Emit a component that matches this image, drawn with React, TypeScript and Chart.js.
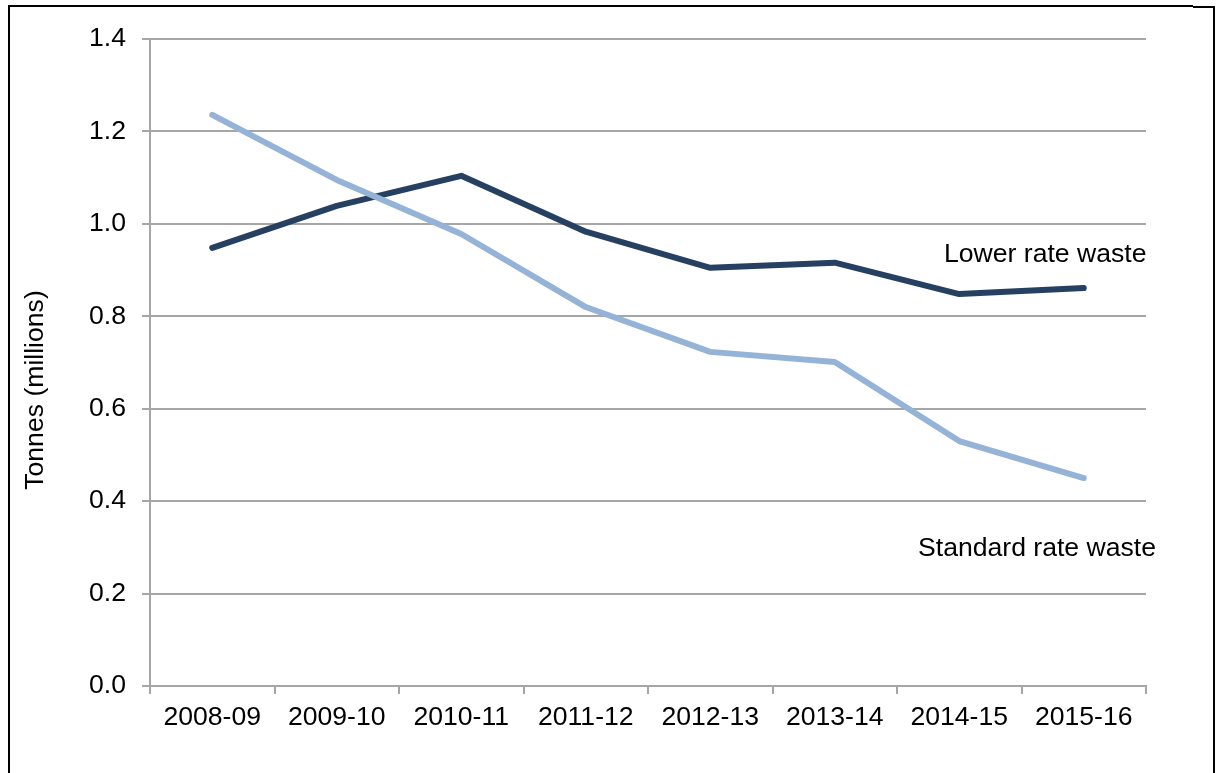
import React, { useEffect, useRef } from "react";
import { Chart, registerables } from "chart.js";

Chart.register(...registerables);

const categories = ["2008-09", "2009-10", "2010-11", "2011-12", "2012-13", "2013-14", "2014-15", "2015-16"];
const lowerRate = [0.948, 1.039, 1.104, 0.983, 0.905, 0.916, 0.848, 0.861];
const standardRate = [1.236, 1.095, 0.978, 0.820, 0.723, 0.701, 0.530, 0.450];
const yTitle = "Tonnes (millions)";
const lowerLabel = "Lower rate waste";
const standardLabel = "Standard rate waste";

const FONT = "'Liberation Sans', Arial, sans-serif";
const FS = 26.6;
const GRID = "#A6A6A6";

const decor = {
  id: "decor",
  afterDraw(chart: any) {
    const ctx = chart.ctx;
    ctx.save();
    // frame
    ctx.strokeStyle = "#000";
    ctx.lineWidth = 2;
    ctx.beginPath();
    ctx.moveTo(9, 773);
    ctx.lineTo(9, 6);
    ctx.lineTo(1193, 6);
    ctx.stroke();
    ctx.beginPath();
    ctx.moveTo(1193, 7);
    ctx.lineTo(1214, 7);
    ctx.lineTo(1214, 773);
    ctx.stroke();
    // texts
    ctx.fillStyle = "#000";
    ctx.font = `${FS}px ${FONT}`;
    ctx.textBaseline = "middle";
    ctx.textAlign = "left";
    ctx.fillText(lowerLabel, 944, 255);
    ctx.fillText(standardLabel, 918, 549);
    ctx.translate(36, 390);
    ctx.rotate(-Math.PI / 2);
    ctx.textAlign = "center";
    ctx.fillText(yTitle, 0, 0);
    ctx.restore();
  },
};

export default function App() {
  const ref = useRef<HTMLCanvasElement | null>(null);
  useEffect(() => {
    if (!ref.current) return;
    const chart = new Chart(ref.current, {
      type: "line",
      data: {
        labels: categories,
        datasets: [
          {
            label: standardLabel,
            data: standardRate,
            borderColor: "#95B3D7",
            borderWidth: 6,
            pointRadius: 0,
            tension: 0,
            borderCapStyle: "round",
            borderJoinStyle: "round",
          },
          {
            label: lowerLabel,
            data: lowerRate,
            borderColor: "#254061",
            borderWidth: 6,
            pointRadius: 0,
            tension: 0,
            borderCapStyle: "round",
            borderJoinStyle: "round",
          },
        ],
      },
      options: {
        responsive: false,
        animation: false,
        layout: { padding: { top: 39, right: 70, left: 0, bottom: 0 } },
        plugins: { legend: { display: false }, tooltip: { enabled: false } },
        scales: {
          x: {
            type: "category",
            offset: true,
            grid: { drawOnChartArea: false, drawTicks: true, tickLength: 8, color: GRID, lineWidth: 2, offset: true },
            border: { color: GRID, width: 2 },
            ticks: { font: { family: FONT, size: FS }, color: "#000", padding: 8, maxRotation: 0, autoSkip: false },
            afterFit: (s: any) => { s.height = 87; },
          },
          y: {
            min: 0,
            max: 1.4,
            grid: { color: GRID, lineWidth: 2, tickLength: 8 },
            border: { color: GRID, width: 2 },
            ticks: {
              stepSize: 0.2,
              font: { family: FONT, size: FS },
              color: "#000",
              padding: 16,
              callback: (v: any) => Number(v).toFixed(1),
            },
            afterFit: (s: any) => { s.width = 150; },
          },
        },
      },
      plugins: [decor],
    });
    return () => chart.destroy();
  }, []);
  return (
    <div style={{ position: "absolute", left: 0, top: 0, width: 1216, height: 773 }}>
      <canvas ref={ref} width={1216} height={773} />
    </div>
  );
}
